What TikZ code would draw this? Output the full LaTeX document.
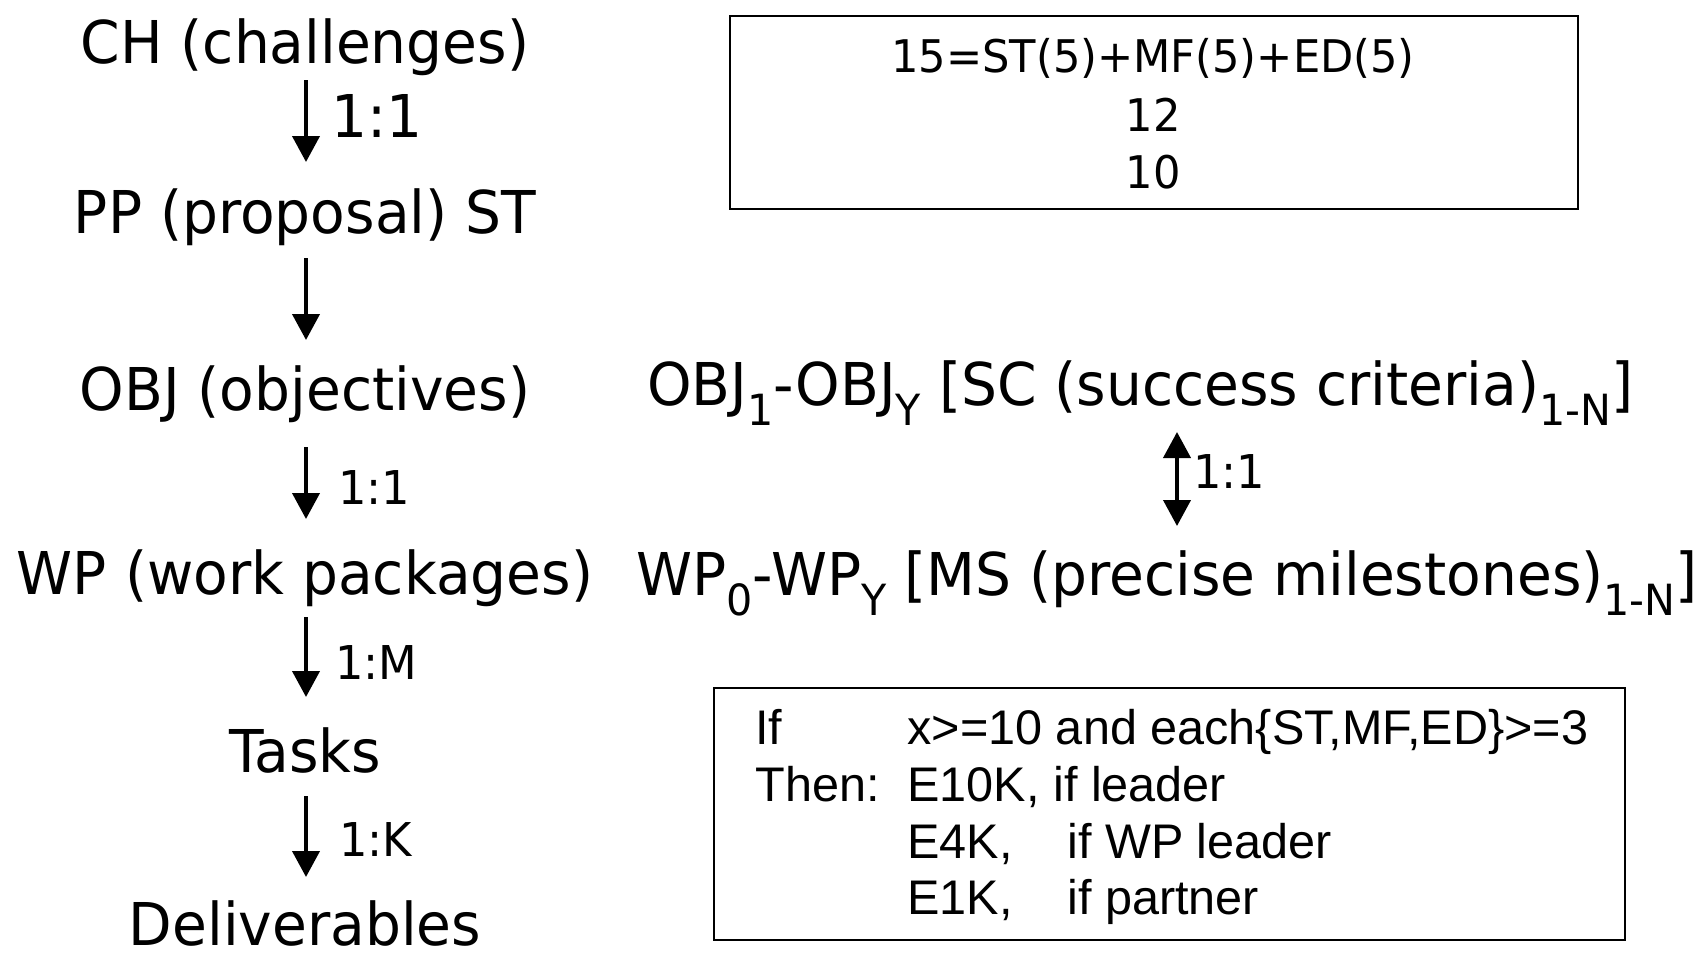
\documentclass[tikz,border=0pt]{standalone}
\usepackage{fontspec}
\newfontfamily\tahf{DejaVu Sans}[FakeStretch=0.96]
\newfontfamily\arif{Liberation Sans}
\usetikzlibrary{arrows.meta}
\newcommand\sbx[1]{\raisebox{-10pt}{\fontsize{21.5}{22}\selectfont #1}}
\begin{document}
\begin{tikzpicture}[x=0.5pt,y=-0.5pt,
  main/.style={font=\tahf\fontsize{29.5}{34}\selectfont, inner sep=0pt, anchor=base},
  side/.style={main, anchor=base west},
  lab/.style={font=\tahf\fontsize{23.3}{28}\selectfont, inner sep=0pt, anchor=base west},
  biglab/.style={lab, font=\tahf\fontsize{29.5}{34}\selectfont},
  arr/.style={line width=2pt, -{Triangle[length=13pt,width=13.5pt]}},
  darr/.style={line width=2pt, {Triangle[length=13pt,width=13.5pt]}-{Triangle[length=13pt,width=13.5pt]}},
  boxframe/.style={draw, line width=1pt, inner sep=0pt, anchor=north west},
  boxt/.style={font=\tahf\fontsize{22.5}{27}\selectfont, inner sep=0pt, anchor=base},
  rulet/.style={font=\arif\fontsize{24.3}{28}\selectfont, inner sep=0pt, anchor=base west}]
\useasboundingbox (0,0) rectangle (1706,954);

% left column
\node[main] (ch) at (305,63) {CH (challenges)};
\node[main] (pp) at (305,233) {PP (proposal) ST};
\node[main] (obj) at (305,410) {OBJ (objectives)};
\node[main] (wp) at (305,594) {WP (work packages)};
\node[main] (tasks) at (305,772) {Tasks};
\node[main] (del) at (305,945) {Deliverables};

\draw[arr] ([xshift=.5pt,yshift=-8.5pt]ch.base) -- ([xshift=.5pt,yshift=35.5pt]pp.base);
\draw[arr] ([xshift=.5pt,yshift=-12.5pt]pp.base) -- ([xshift=.5pt,yshift=35pt]obj.base);
\draw[arr] ([xshift=.5pt,yshift=-18.5pt]obj.base) -- ([xshift=.5pt,yshift=37.5pt]wp.base);
\draw[arr] ([xshift=.5pt,yshift=-11.5pt]wp.base) -- ([xshift=.5pt,yshift=37.5pt]tasks.base);
\draw[arr] ([xshift=.5pt,yshift=-12pt]tasks.base) -- ([xshift=.5pt,yshift=34pt]del.base);

\node[biglab] (l1) at (331,137) {1:1};
\node[lab] (l2) at (338,504) {1:1};
\node[lab] (l3) at (335,679) {1:M};
\node[lab] (l4) at (339,856) {1:K};

% right column
\node[side] (objr) at (647,405) {OBJ\sbx{1}-OBJ\sbx{Y} [SC (success criteria)\sbx{1-N}]};
\node[side] (wpr) at (636,595) {WP\sbx{0}-WP\sbx{Y} [MS (precise milestones)\sbx{1-N}]};
\draw[darr] ([xshift=265pt,yshift=-13.5pt]objr.base west) -- ([xshift=270.5pt,yshift=34.5pt]wpr.base west);
\node[lab] (l5) at (1193,488) {1:1};

% top box
\node[boxframe, minimum width=424pt, minimum height=96.5pt] (sum) at (729,15) {};
\node[boxt] (s1) at (1153,72) {15=ST(5)+MF(5)+ED(5)};
\node[boxt] (s2) at (1153,131) {12};
\node[boxt] (s3) at (1153,188) {10};

% bottom box
\node[boxframe, minimum width=455.5pt, minimum height=126pt] (cond) at (713,687) {};
\node[rulet] (r1a) at (755,744) {If};
\node[rulet] (r1b) at (907,744) {x>=10 and each\{ST,MF,ED\}>=3};
\node[rulet] (r2a) at (755,801) {Then:};
\node[rulet] (r2b) at (907,801) {E10K, if leader};
\node[rulet] (r3) at (907,858) {\makebox[80pt][l]{E4K,}if WP leader};
\node[rulet] (r4) at (907,914) {\makebox[80pt][l]{E1K,}if partner};
\end{tikzpicture}
\end{document}
